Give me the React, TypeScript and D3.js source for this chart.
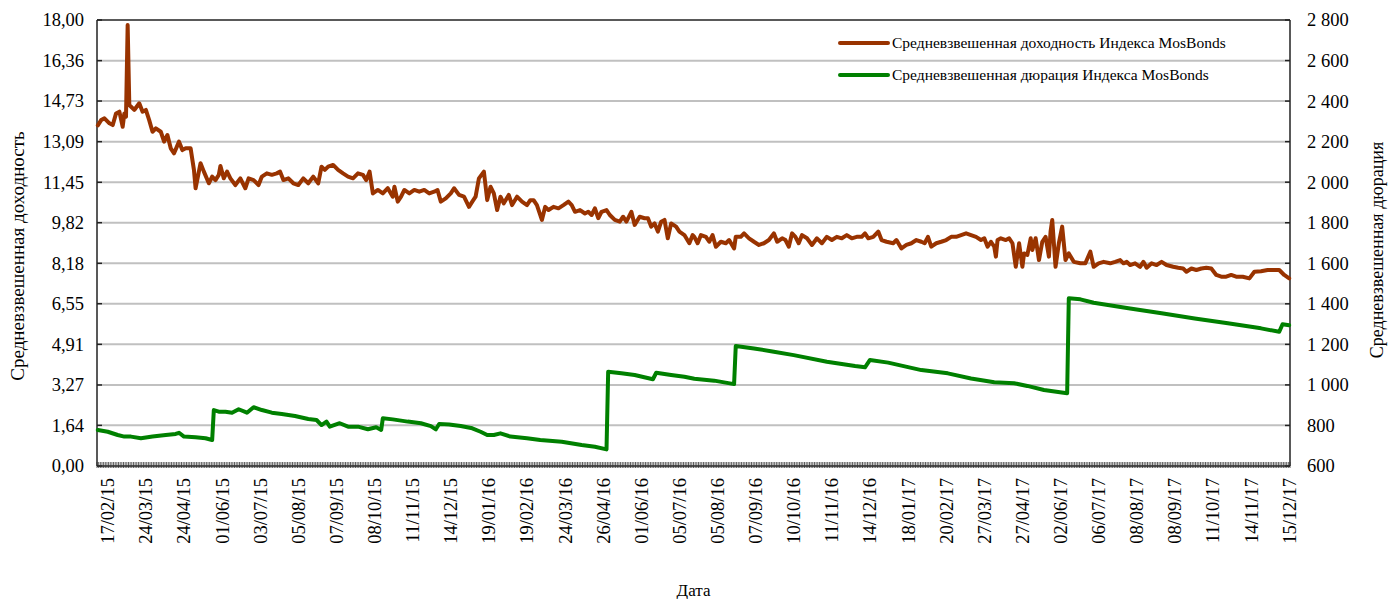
import React from 'react';
import * as d3 from 'd3';

const width = 1388;
const height = 599;
const margin = { top: 20, right: 98, bottom: 133, left: 97 };

// number of trading days on the category axis
const dayCount = 720;
const labelStart = 6;
const labelStep = 23;

const dateLabels = [
    '17/02/15', '24/03/15', '24/04/15', '01/06/15', '03/07/15', '05/08/15', '07/09/15', '08/10/15',
    '11/11/15', '14/12/15', '19/01/16', '19/02/16', '24/03/16', '26/04/16', '01/06/16', '05/07/16',
    '05/08/16', '07/09/16', '10/10/16', '11/11/16', '14/12/16', '18/01/17', '20/02/17', '27/03/17',
    '27/04/17', '02/06/17', '06/07/17', '08/08/17', '08/09/17', '11/10/17', '14/11/17', '15/12/17',
];

const leftTicks = ['0,00', '1,64', '3,27', '4,91', '6,55', '8,18', '9,82', '11,45', '13,09', '14,73', '16,36', '18,00'];
const rightTicks = ['600', '800', '1 000', '1 200', '1 400', '1 600', '1 800', '2 000', '2 200', '2 400', '2 600', '2 800'];

const seriesNames = [
    'Средневзвешенная доходность Индекса MosBonds',
    'Средневзвешенная дюрация Индекса MosBonds',
];

// [day index, yield %]
const yieldPoints: [number, number][] = [
    [0, 13.75], [2, 13.96], [4, 14.03], [7, 13.83], [9, 13.76], [11, 14.23], [13, 14.3], [15, 13.69],
    [16, 14.23], [17, 14.1], [18, 17.8], [19, 14.57], [22, 14.37], [25, 14.64], [27, 14.3], [29, 14.37],
    [31, 13.96], [33, 13.49], [35, 13.63], [38, 13.49], [40, 13.09], [42, 13.36], [44, 12.82], [46, 12.62],
    [49, 13.09], [51, 12.75], [53, 12.82], [56, 12.82], [58, 11.95], [59, 11.21], [62, 12.22], [64, 11.88],
    [67, 11.41], [69, 11.68], [71, 11.54], [73, 11.75], [74, 12.11], [76, 11.61], [78, 11.88], [80, 11.61],
    [83, 11.34], [86, 11.61], [89, 11.21], [91, 11.61], [94, 11.54], [97, 11.34], [99, 11.68], [102, 11.81],
    [105, 11.75], [108, 11.81], [110, 11.88], [112, 11.54], [115, 11.61], [118, 11.41], [121, 11.34], [124, 11.61],
    [127, 11.41], [130, 11.68], [133, 11.41], [135, 12.08], [137, 11.95], [139, 12.08], [142, 12.15], [145, 11.95],
    [148, 11.81], [151, 11.68], [154, 11.61], [157, 11.81], [160, 11.75], [162, 11.54], [164, 11.88], [166, 11.0],
    [169, 11.14], [172, 11.0], [175, 11.21], [178, 10.87], [179, 11.27], [181, 10.67], [183, 10.87], [185, 11.14],
    [188, 11.0], [191, 11.14], [194, 11.07], [197, 11.14], [200, 11.0], [203, 11.07], [205, 11.14], [207, 10.67],
    [210, 10.8], [213, 11.0], [215, 11.21], [218, 10.94], [221, 10.87], [224, 10.46], [226, 10.67], [228, 10.87],
    [230, 11.61], [233, 11.88], [235, 10.73], [237, 11.27], [239, 11.0], [241, 10.33], [243, 10.87], [245, 10.6],
    [248, 10.94], [250, 10.53], [253, 10.87], [256, 10.67], [259, 10.53], [261, 10.73], [263, 10.73], [265, 10.53],
    [268, 9.93], [270, 10.46], [272, 10.33], [275, 10.46], [278, 10.4], [281, 10.53], [284, 10.67], [286, 10.53],
    [288, 10.26], [291, 10.33], [294, 10.19], [296, 10.26], [298, 10.13], [300, 10.4], [302, 10.0], [304, 10.26],
    [307, 10.33], [309, 10.13], [312, 9.93], [315, 9.86], [317, 10.06], [319, 9.86], [322, 10.26], [324, 9.73],
    [327, 10.06], [330, 10.0], [332, 10.0], [334, 9.66], [336, 9.79], [338, 9.46], [340, 9.86], [342, 9.93],
    [344, 9.19], [346, 9.79], [349, 9.66], [351, 9.46], [354, 9.32], [357, 8.99], [359, 9.32], [360, 9.25],
    [362, 8.99], [364, 9.32], [367, 9.25], [369, 9.05], [371, 9.32], [373, 8.85], [376, 9.05], [379, 8.99],
    [381, 9.12], [384, 8.78], [385, 9.25], [388, 9.25], [390, 9.39], [393, 9.19], [396, 9.05], [399, 8.92],
    [402, 8.99], [405, 9.12], [408, 9.39], [410, 9.05], [413, 9.19], [415, 9.12], [417, 8.85], [419, 9.39],
    [421, 9.25], [423, 8.99], [425, 9.32], [428, 9.19], [431, 8.92], [434, 9.19], [437, 8.99], [440, 9.25],
    [443, 9.12], [446, 9.25], [449, 9.19], [452, 9.32], [455, 9.19], [458, 9.25], [461, 9.25], [463, 9.39],
    [465, 9.19], [468, 9.25], [471, 9.46], [473, 9.12], [476, 9.05], [480, 8.99], [482, 9.12], [485, 8.78],
    [488, 8.92], [491, 8.99], [494, 9.12], [497, 9.05], [499, 8.99], [501, 9.25], [503, 8.85], [506, 8.99],
    [509, 9.05], [512, 9.12], [515, 9.25], [518, 9.25], [521, 9.32], [524, 9.39], [527, 9.32], [530, 9.25],
    [533, 9.12], [535, 9.19], [537, 8.85], [539, 9.05], [541, 8.85], [542, 8.45], [543, 9.12], [545, 9.19],
    [548, 9.12], [550, 9.19], [552, 8.99], [554, 8.04], [556, 8.99], [558, 8.04], [559, 8.58], [561, 8.52],
    [563, 9.19], [564, 8.72], [566, 9.19], [568, 8.31], [570, 9.05], [572, 9.25], [574, 8.45], [575, 9.46],
    [576, 9.93], [578, 8.04], [580, 8.99], [582, 9.66], [584, 8.31], [586, 8.58], [589, 8.24], [593, 8.18],
    [596, 8.18], [599, 8.65], [601, 8.04], [604, 8.18], [607, 8.24], [611, 8.18], [614, 8.24], [617, 8.31],
    [619, 8.18], [621, 8.24], [623, 8.11], [626, 8.18], [629, 8.04], [631, 8.24], [633, 8.0], [636, 8.18],
    [639, 8.11], [642, 8.24], [645, 8.11], [649, 8.04], [652, 8.0], [655, 7.97], [657, 7.84], [660, 7.97],
    [663, 7.91], [666, 7.97], [669, 8.0], [672, 7.97], [675, 7.71], [678, 7.64], [681, 7.64], [684, 7.71],
    [687, 7.64], [691, 7.64], [695, 7.57], [698, 7.84], [702, 7.86], [706, 7.91], [710, 7.91], [713, 7.91],
    [716, 7.71], [719, 7.57],
];

// [day index, duration in days]
const durationPoints: [number, number][] = [
    [0, 778], [6, 769], [12, 753], [16, 745], [20, 745], [26, 737], [33, 745], [41, 753],
    [47, 758], [49, 764], [52, 745], [59, 742], [65, 737], [69, 728], [70, 876], [73, 868],
    [77, 868], [81, 863], [85, 880], [90, 863], [94, 890], [99, 876], [105, 863], [111, 857],
    [119, 847], [127, 832], [132, 827], [135, 802], [138, 819], [140, 794], [146, 811], [151, 794],
    [157, 794], [163, 781], [168, 791], [171, 778], [172, 835], [178, 830], [187, 819], [195, 811],
    [201, 797], [204, 781], [206, 807], [212, 805], [219, 797], [226, 786], [231, 769], [235, 753],
    [239, 753], [243, 761], [249, 745], [259, 737], [267, 728], [280, 720], [292, 704], [300, 695],
    [307, 682], [308, 1065], [316, 1057], [324, 1049], [335, 1028], [337, 1060], [346, 1049], [354, 1040],
    [360, 1030], [372, 1021], [384, 1004], [385, 1192], [396, 1180], [408, 1164], [420, 1147], [440, 1114],
    [457, 1093], [463, 1087], [466, 1123], [477, 1110], [497, 1073], [513, 1057], [527, 1032], [541, 1013],
    [553, 1008], [561, 995], [571, 975], [585, 959], [586, 1427], [593, 1422], [601, 1405], [622, 1378],
    [642, 1353], [662, 1328], [682, 1304], [702, 1279], [713, 1262], [715, 1299], [719, 1294],
];

const x0 = margin.left;
const x1 = width - margin.right;
const y0 = height - margin.bottom;
const y1 = margin.top;

const font = '"Liberation Serif", "Times New Roman", serif';
const brown = '#993300';
const green = '#008000';

const Chart = () => {
    const xScale = d3.scaleLinear().domain([-0.5, dayCount - 0.5]).range([x0, x1]);
    const yLeft = d3.scaleLinear().domain([0, 18]).range([y0, y1]);
    const yRight = d3.scaleLinear().domain([600, 2800]).range([y0, y1]);

    const leftValues = leftTicks.map(t => +t.replace(',', '.'));
    const rightValues = rightTicks.map(t => +t.replace(' ', ''));

    const yieldLine = d3.line<[number, number]>()
        .x(d => xScale(d[0]))
        .y(d => yLeft(d[1]));
    const durLine = d3.line<[number, number]>()
        .x(d => xScale(d[0]))
        .y(d => yRight(d[1]));

    const dayTicks = d3.range(dayCount + 1).map(i => xScale(i - 0.5));

    return (
        <svg width={width} height={height} style={{ display: 'block', position: 'absolute', left: 0, top: 0 }}>
            <rect x={0} y={0} width={width} height={height} fill="#fff" />
            {/* gridlines */}
            {leftValues.slice(1, -1).map((v, i) => (
                <line key={i} x1={x0} x2={x1} y1={yLeft(v)} y2={yLeft(v)} stroke="#c0c0c0" strokeWidth={2} />
            ))}
            {/* left axis */}
            <line x1={x0} x2={x0} y1={y1} y2={y0} stroke="#222" strokeWidth={1.5} />
            {leftValues.map((v, i) => (
                <g key={i}>
                    <line x1={x0} x2={x0 + 5} y1={yLeft(v)} y2={yLeft(v)} stroke="#222" strokeWidth={1.5} />
                    <text x={x0 - 13} y={yLeft(v)} dy="0.35em" textAnchor="end" fontFamily={font} fontSize={18.5} fill="#000">
                        {leftTicks[i]}
                    </text>
                </g>
            ))}
            {/* right axis */}
            <line x1={x1} x2={x1} y1={y1} y2={y0} stroke="#222" strokeWidth={1.5} />
            {rightValues.map((v, i) => (
                <g key={i}>
                    <line x1={x1 - 5} x2={x1} y1={yRight(v)} y2={yRight(v)} stroke="#222" strokeWidth={1.5} />
                    <text x={x1 + 17} y={yRight(v)} dy="0.35em" textAnchor="start" fontFamily={font} fontSize={18.5} fill="#000">
                        {rightTicks[i]}
                    </text>
                </g>
            ))}
            {/* top frame */}
            <line x1={x0} x2={x1} y1={y1} y2={y1} stroke="#222" strokeWidth={1.5} />
            {/* bottom axis with a tick for every day */}
            <line x1={x0} x2={x1} y1={y0} y2={y0} stroke="#222" strokeWidth={1.5} />
            {dayTicks.map((tx, i) => (
                <line key={i} x1={tx} x2={tx} y1={y0 - 4} y2={y0 + 2} stroke="#333" strokeWidth={0.8} />
            ))}
            {dateLabels.map((lab, k) => {
                const tx = xScale(labelStart + k * labelStep);
                return (
                    <text key={k} transform={`translate(${tx},${y0 + 12}) rotate(-90)`} dy="0.35em" textAnchor="end"
                        fontFamily={font} fontSize={18.5} fill="#000">
                        {lab}
                    </text>
                );
            })}
            {/* series */}
            <path d={yieldLine(yieldPoints) || ''} fill="none" stroke={brown} strokeWidth={4} strokeLinejoin="round" strokeLinecap="round" />
            <path d={durLine(durationPoints) || ''} fill="none" stroke={green} strokeWidth={4} strokeLinejoin="round" strokeLinecap="round" />
            {/* legend */}
            {seriesNames.map((name, i) => (
                <g key={i} transform={`translate(840,${43 + i * 32})`}>
                    <line x1={0} x2={48} y1={0} y2={0} stroke={i === 0 ? brown : green} strokeWidth={4} strokeLinecap="round" />
                    <text x={52} y={0} dy="0.35em" fontFamily={font} fontSize={15.5} fill="#000">{name}</text>
                </g>
            ))}
            {/* axis titles */}
            <text transform={`translate(17,256) rotate(-90)`} dy="0.35em" textAnchor="middle" fontFamily={font} fontSize={19} fill="#000">
                Средневзвешенная доходность
            </text>
            <text transform={`translate(1377,250) rotate(-90)`} dy="0.35em" textAnchor="middle" fontFamily={font} fontSize={18} fill="#000">
                Средневзвешенная дюрация
            </text>
            <text x={(x0 + x1) / 2} y={590} dy="0.35em" textAnchor="middle" fontFamily={font} fontSize={17} fill="#000">
                Дата
            </text>
        </svg>
    );
};

export const App = () => <Chart />;

export default App;
